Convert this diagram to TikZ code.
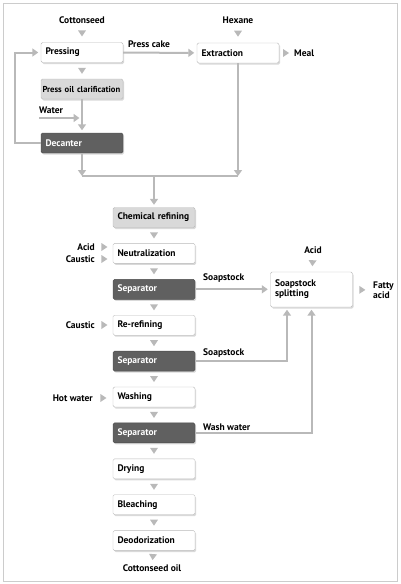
\documentclass[tikz,border=0pt]{standalone}
\usepackage{fontspec}
\setmainfont{PT Sans}
\usetikzlibrary{arrows.meta,positioning,shadows,decorations.markings}

\begin{document}
\begin{tikzpicture}[x=1pt, y=-1pt,
		font=\fontsize{9.5}{11}\selectfont\bfseries,
		box/.style={draw=gray!55, fill=white, rounded corners=1.5pt,
			minimum width=82pt, minimum height=20pt, text width=73pt,
			inner xsep=4.5pt, align=left,
			drop shadow={shadow xshift=1.2pt, shadow yshift=-1.5pt, opacity=0.3}},
		lightbox/.style={box, fill=gray!30},
		darkbox/.style={box, fill=gray!75!black, draw=gray!60!black, text=white},
		lbl/.style={inner sep=1pt},
		line/.style={draw=gray!55, line width=2pt},
		tip/.style={-{Triangle[length=6pt, width=8pt, color=gray!55]}, shorten >=2.5pt},
		gap/.style={postaction={decorate}, decoration={markings,
				mark=at position 0.5 with {\fill[gray!55] (3pt,0) -- (-3pt,4pt) -- (-3pt,-4pt) -- cycle;}}}]
	
	\useasboundingbox (0,0) rectangle (400,584);
	\draw[gray!40, line width=0.8pt] (3,3) rectangle (397,581);
	
	% ---------- Pressing and extraction ----------
	\node[box] (press) at (82,52.5) {Pressing};
	\node[lightbox, text width=79pt, inner xsep=1.5pt, font=\fontsize{8.6}{10}\selectfont\bfseries] (clar) at (82,89) {Press oil clarification};
	\node[darkbox] (dec) at (82,143) {Decanter};
	\node[box] (extr) at (238,53) {Extraction};
	
	\node[lbl] (seed) at (82,20) {Cottonseed};
	\node[lbl] (hex) at (238,20) {Hexane};
	\node[lbl, anchor=west] (meal) at (293,53) {Meal};
	\node[lbl] (cake) at (149,44) {Press cake};
	\node[lbl, anchor=west] (water) at (38,110) {Water};
	\coordinate (wat) at (39,118);
	\coordinate (mrg) at (154,176);
	
	% ---------- Refining chain ----------
	\node[lightbox] (chem) at (154,217.5) {Chemical refining};
	\node[box, below=15.5pt of chem] (neut) {Neutralization};
	\node[darkbox, below=15.5pt of neut] (sep1) {Separator};
	\node[box, below=15.5pt of sep1] (reref) {Re-refining};
	\node[darkbox, below=15.5pt of reref] (sep2) {Separator};
	\node[box, below=15.5pt of sep2] (wash) {Washing};
	\node[darkbox, below=15.5pt of wash] (sep3) {Separator};
	\node[box, below=15.5pt of sep3] (dry) {Drying};
	\node[box, below=15.5pt of dry] (bleach) {Bleaching};
	\node[box, below=15.5pt of bleach] (deo) {Deodorization};
	\node[lbl] (oil) at (152,568) {Cottonseed oil};
	
	\node[lbl, anchor=east] (acid) at (96,247) {Acid};
	\node[lbl, anchor=east] (caus) at (96,259) {Caustic};
	\node[lbl, anchor=east] (causb) at (96,325) {Caustic};
	\node[lbl, anchor=east] (hot) at (94,398) {Hot water};
	
	% ---------- Soapstock splitting ----------
	\node[box, minimum height=35pt] (split) at (311.5,289.5) {Soapstock\\[-1pt]splitting};
	\node[lbl] (acidb) at (313,250) {Acid};
	\node[lbl, anchor=west, align=left, font=\fontsize{9.5}{10.5}\selectfont\bfseries] (fatty) at (372,290) {Fatty\\acid};
	\node[lbl, anchor=west] (soapa) at (202,278) {Soapstock};
	\node[lbl, anchor=west] (soapb) at (202,353) {Soapstock};
	\node[lbl, anchor=west] (wwat) at (202,427) {Wash water};
	
	% ---------- Small arrow heads between steps ----------
	\foreach \a/\b in {seed/press, press/clar, hex/extr, extr/meal, chem/neut, neut/sep1, sep1/reref,
		reref/sep2, sep2/wash, wash/sep3, sep3/dry, dry/bleach, bleach/deo, deo/oil,
		acidb/split, split/fatty}
	\path[gap] (\a) -- (\b);
	\foreach \a/\b in {acid/neut, caus/neut, causb/reref, hot/wash}
	\path[gap] (\a) -- (\b.west |- \a);
	
	% ---------- Flow lines ----------
	\draw[line, tip] (press) -- (extr);
	\draw[line, tip] (dec.west) -- ++(-26,0) |- (press.west);
	\draw[line, tip] (clar) -- (dec);
	\draw[line, tip] (wat) -- (clar.south |- wat);
	\draw[line] (dec.south |- mrg) -- (extr.south |- mrg);
	\draw[line, tip, shorten >=0pt] (dec) -- (dec.south |- mrg);
	\draw[line, tip, shorten >=0pt] (extr) -- (extr.south |- mrg);
	\draw[line, tip] (mrg) -- (chem);
	
	\draw[line, tip] (sep1) -- (sep1 -| split.west);
	\draw[line, tip] (sep2) -| ([xshift=-24.5pt]split.south);
	\draw[line, tip] (sep3) -| (split.south);
	
\end{tikzpicture}
\end{document}
